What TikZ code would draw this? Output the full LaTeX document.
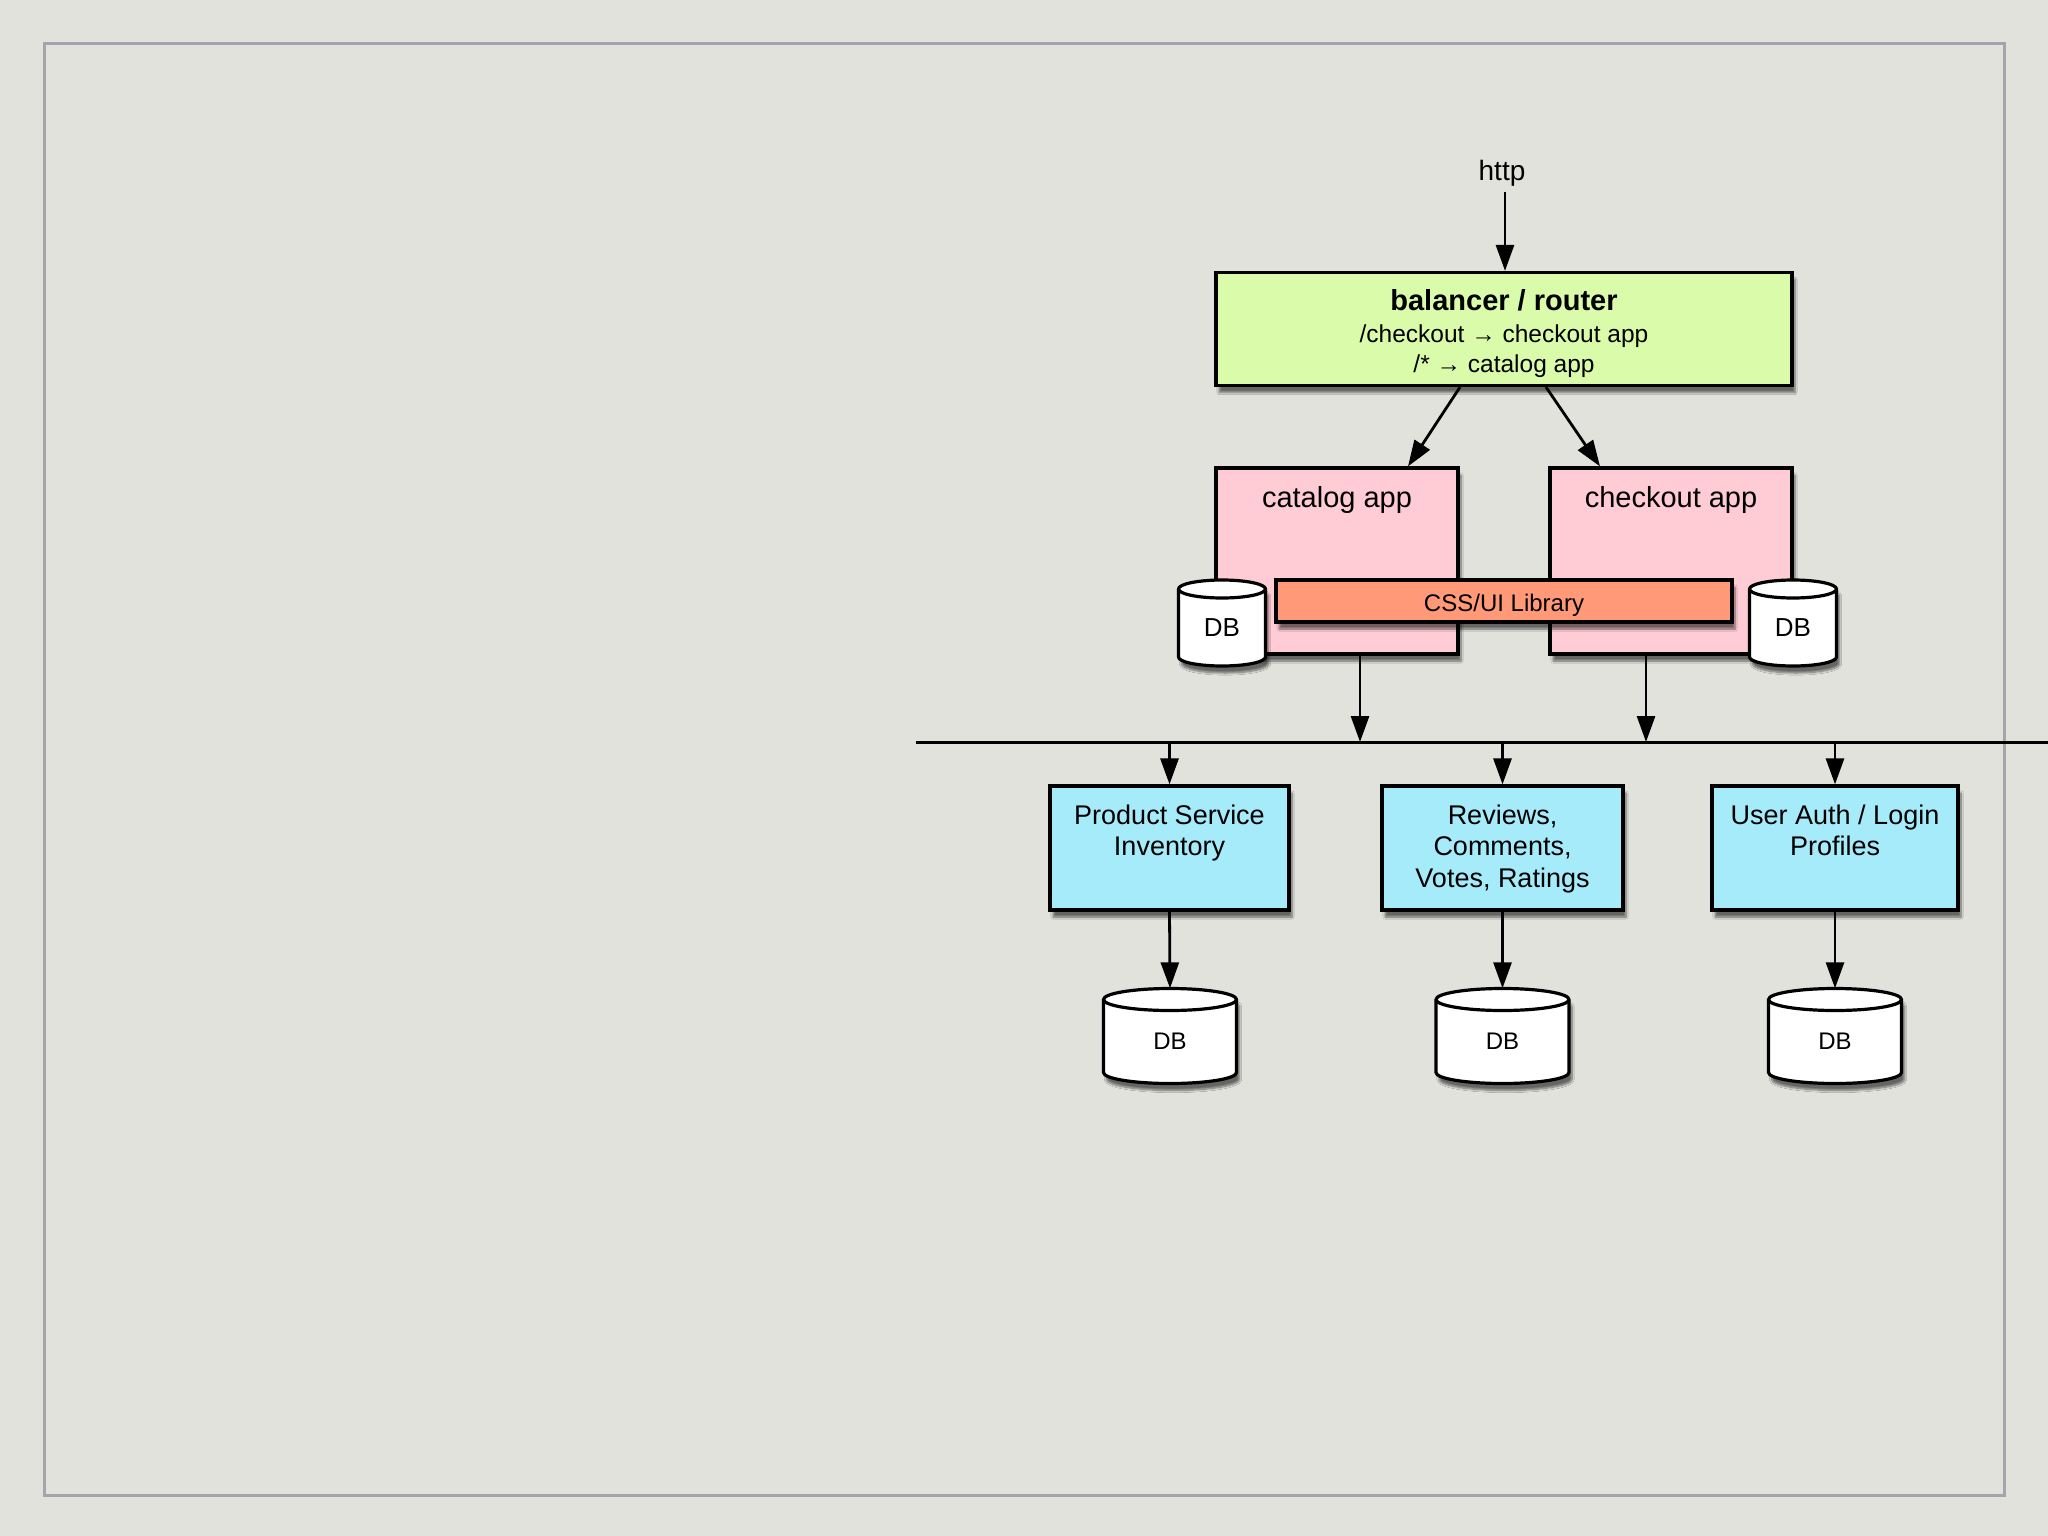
\documentclass[tikz,border=0pt]{standalone}
\usepackage{fontspec}
\setmainfont{Liberation Sans}
\usetikzlibrary{arrows.meta,shadows.blur,calc}
\definecolor{bgcol}{HTML}{E2E2DC}
\definecolor{framecol}{HTML}{A4A4AC}
\definecolor{balfill}{HTML}{DAFCAA}
\definecolor{appfill}{HTML}{FFCCD5}
\definecolor{libfill}{HTML}{FF9977}
\definecolor{svcfill}{HTML}{A6EBFA}
\tikzset{
  shad/.style={blur shadow={shadow xshift=3pt, shadow yshift=-7pt, shadow blur steps=8, shadow opacity=55}},
  boxbase/.style={draw=black, line width=3.2pt, rectangle, inner sep=0pt, shad},
  balbox/.style={boxbase, fill=balfill, minimum width=576pt, minimum height=113pt},
  appbox/.style={boxbase, fill=appfill, minimum width=242pt, minimum height=186pt},
  libbox/.style={boxbase, fill=libfill, minimum width=456pt, minimum height=42pt, font=\fontsize{24}{28}\selectfont, text height=25.5pt, text depth=5pt},
  svcbox/.style={boxbase, fill=svcfill, minimum height=124pt},
  cylline/.style={draw=black, line width=3.2pt, line join=round},
  dbnode/.style={inner sep=0pt, rectangle},
  arr/.style={draw=black, line width=2.8pt, -{Triangle[length=26pt,width=18pt]}},
  lbl/.style={inner sep=0pt, align=center},
}
% #1 name, #2 cx, #3 cy, #4 width, #5 height, #6 ellipse y radius, #7 font size
\newcommand{\dbcyl}[7]{%
  \pgfmathsetmacro{\cylrx}{#4/2}%
  \pgfmathsetmacro{\cyltop}{#3-#5/2+#6}%
  \pgfmathsetmacro{\cylbot}{#3+#5/2-#6}%
  \pgfmathsetmacro{\cylL}{#2-\cylrx}%
  \pgfmathsetmacro{\cylR}{#2+\cylrx}%
  \path[cylline, fill=white, shad] (\cylL,\cyltop) -- (\cylL,\cylbot)
     arc[start angle=180, end angle=360, x radius=\cylrx pt, y radius=#6pt]
     -- (\cylR,\cyltop)
     arc[start angle=0, end angle=180, x radius=\cylrx pt, y radius=#6pt] -- cycle;
  \draw[cylline] (\cylL,\cyltop) arc[start angle=180, end angle=360, x radius=\cylrx pt, y radius=#6pt];
  \node[dbnode, minimum width=#4pt, minimum height=#5pt] (#1) at (#2,#3) {};%
  \node[lbl, font=\fontsize{#7}{#7}\selectfont] (#1lbl) at (#2,#3+5) {DB};%
}
\begin{document}
\begin{tikzpicture}[x=1pt,y=-1pt]
\fill[bgcol] (0,0) rectangle (2048,1536);
\useasboundingbox (0,0) rectangle (2048,1536);
\draw[framecol, line width=3pt] (44,44) rectangle (2004,1495);

% http and balancer
\node[lbl, font=\fontsize{28}{32}\selectfont] (http) at (1502,173) {http};
\node[balbox] (bal) at (1504,329) {};
\node[lbl, font=\fontsize{24.5}{30}\selectfont] (baltxt) at (1504,334) {{\fontsize{29}{34}\selectfont\bfseries balancer / router}\\[2pt]
  /checkout → checkout app\\
  /* → catalog app};
\draw[arr] (http.south) ++(3,6) coordinate (hs) -- (hs |- bal.north);

% apps
\node[appbox] (catalog) at (1337,561) {};
\node[appbox] (checkout) at (1671,561) {};
\node[lbl, font=\fontsize{29}{34}\selectfont, anchor=north] (catlbl) at ([yshift=-20pt]catalog.north) {catalog app};
\node[lbl, font=\fontsize{29}{34}\selectfont, anchor=north] (chklbl) at ([yshift=-20pt]checkout.north) {checkout app};
\draw[arr] ([xshift=-44pt]bal.south) -- ([xshift=71pt]catalog.north);
\draw[arr] ([xshift=42pt]bal.south) -- ([xshift=-71pt]checkout.north);

\dbcyl{db1}{1222}{623}{87}{86}{9}{26}
\dbcyl{db2}{1793}{623}{87}{86}{9}{26}
\node[libbox] (lib) at (1504,601) {CSS/UI Library};

% bus
\coordinate (busL) at (916,742);
\coordinate (busR) at (2048,742);
\draw[black, line width=3pt] (busL) -- (busR);
\draw[arr] ([xshift=23pt]catalog.south) coordinate (c1) -- (c1 |- busL);
\draw[arr] ([xshift=-25pt]checkout.south) coordinate (c2) -- (c2 |- busL);

% services
\node[svcbox, minimum width=239pt] (svc1) at (1169.5,848) {};
\node[svcbox, minimum width=241pt] (svc2) at (1502.5,848) {};
\node[svcbox, minimum width=246pt] (svc3) at (1835,848) {};
\node[lbl, anchor=north, font=\fontsize{27}{31.5}\selectfont] (t1) at ([yshift=-20pt]svc1.north) {Product Service\\Inventory};
\node[lbl, anchor=north, font=\fontsize{27}{31.5}\selectfont] (t2) at ([yshift=-20pt]svc2.north) {Reviews,\\Comments,\\Votes, Ratings};
\node[lbl, anchor=north, font=\fontsize{27}{31.5}\selectfont] (t3) at ([yshift=-20pt]svc3.north) {User Auth / Login\\Profiles};
\draw[arr] (svc1.north |- busL) -- (svc1.north);
\draw[arr] (svc2.north |- busL) -- (svc2.north);
\draw[arr] (svc3.north |- busL) -- (svc3.north);

\dbcyl{db3}{1170}{1036}{133}{95}{11}{24}
\dbcyl{db4}{1502.5}{1036}{133}{95}{11}{24}
\dbcyl{db5}{1835}{1036}{133}{95}{11}{24}
\draw[arr] (svc1.south) -- (db3.north);
\draw[arr] (svc2.south) -- (db4.north);
\draw[arr] (svc3.south) -- (db5.north);
\end{tikzpicture}
\end{document}
